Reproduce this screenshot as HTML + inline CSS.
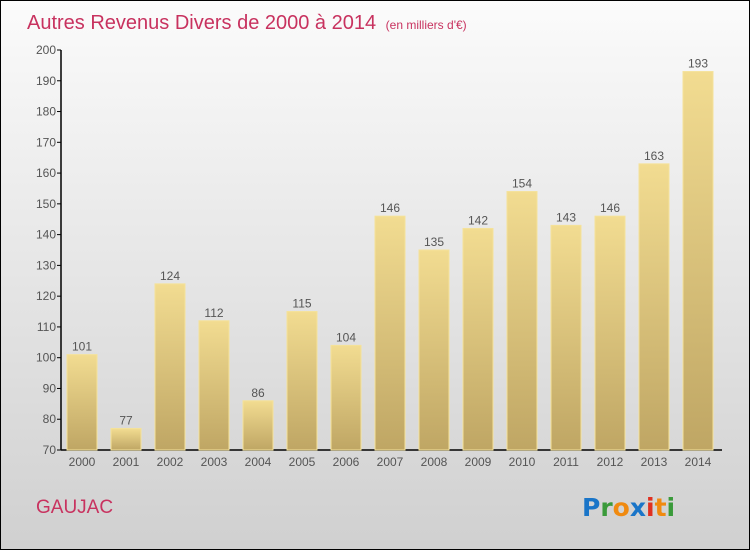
<!DOCTYPE html>
<html><head><meta charset="utf-8"><style>
html,body{margin:0;padding:0}
body{width:750px;height:550px;overflow:hidden;font-family:"Liberation Sans",sans-serif}
#wrap{position:absolute;left:0;top:0;width:748px;height:548px;border:1px solid #000;background:linear-gradient(#fbfbfb,#d0d0d0)}
</style></head><body>
<div id="wrap">
<svg width="748" height="548" viewBox="1 1 748 548">
<defs><linearGradient id="bg" x1="0" y1="0" x2="0" y2="1"><stop offset="0" stop-color="#f2dc91"/><stop offset="1" stop-color="#bfa664"/></linearGradient></defs>
<text x="27" y="29" font-size="20" fill="#c8325f">Autres Revenus Divers de 2000 à 2014 <tspan font-size="12" dx="4">(en milliers d'€)</tspan></text>
<g id="axes"></g><g id="bars"></g>
<text x="36" y="513" font-size="19" fill="#c8325f">GAUJAC</text>
<g font-size="25" font-weight="bold" font-family="'DejaVu Sans',sans-serif">
<text x="582" y="516"><tspan fill="#1a75c8">P</tspan><tspan fill="#3a9a3a">r</tspan><tspan fill="#f08a10">o</tspan><tspan fill="#1a75c8">x</tspan><tspan fill="#e03020">i</tspan><tspan fill="#f08a10">t</tspan><tspan fill="#3a9a3a">i</tspan></text></g>
</svg></div>
<script>
const years=["2000","2001","2002","2003","2004","2005","2006","2007","2008","2009","2010","2011","2012","2013","2014"];
const values=[101,77,124,112,86,115,104,146,135,142,154,143,146,163,193];
const yTicks=[70,80,90,100,110,120,130,140,150,160,170,180,190,200];
const NS="http://www.w3.org/2000/svg";
const y=v=>450-(v-70)*400/130;
const x=i=>82+i*44;
function mk(tag,attrs,parent){const e=document.createElementNS(NS,tag);for(const k in attrs)e.setAttribute(k,attrs[k]);parent.appendChild(e);return e;}
const ax=document.getElementById('axes'),bg=document.getElementById('bars');
let l=mk('line',{x1:61,y1:50,x2:61,y2:450,stroke:'#000','stroke-width':1.5},ax);


l=mk('line',{x1:61,y1:450,x2:722,y2:450,stroke:'#000','stroke-width':1.5},ax);


yTicks.forEach(t=>{
 const tk=mk('line',{x1:57,y1:y(t),x2:61,y2:y(t),stroke:'#000'},ax);
 
 
 const tx=mk('text',{x:56,y:y(t)+4,'text-anchor':'end','font-size':12,fill:'#555'},ax);
 tx.textContent=t;
 
 
});
values.forEach((v,i)=>{
 const r=mk('rect',{x:x(i)-15,y:y(v),width:30,height:450-y(v),fill:'url(#bg)',stroke:'#f5e29a','stroke-width':1},bg);
 
 
 const t=mk('text',{x:x(i),y:y(v)-4,'text-anchor':'middle','font-size':12,fill:'#555'},bg);
 t.textContent=v;
 
 
 const xl=mk('text',{x:x(i),y:466,'text-anchor':'middle','font-size':12,fill:'#555'},bg);
 xl.textContent=years[i];
 
 
});
</script>
</body></html>
